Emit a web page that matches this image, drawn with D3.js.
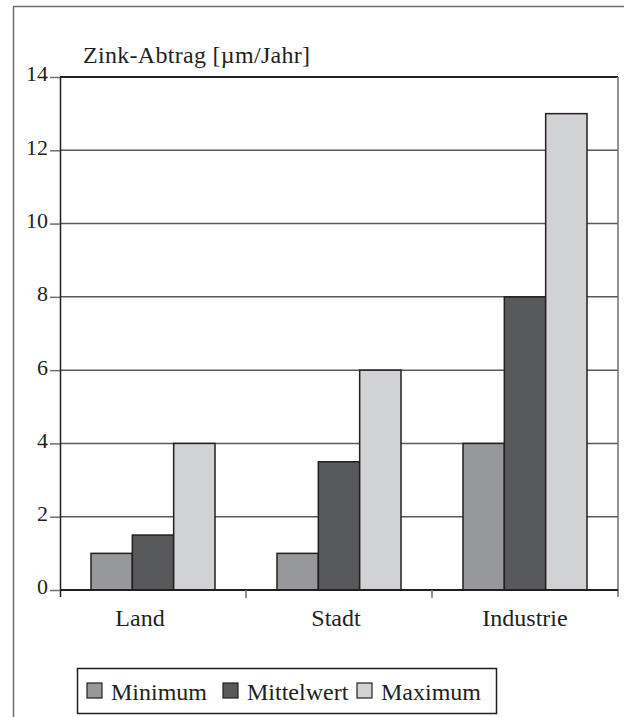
<!DOCTYPE html>
<html><head><meta charset="utf-8">
<script src="https://cdn.jsdelivr.net/npm/d3@7"></script>
<style>
html,body{margin:0;padding:0;background:#fff;}
svg{display:block;}
</style></head>
<body>
<svg id="chart" width="624" height="717"></svg>
<script>
const categories = ["Land", "Stadt", "Industrie"];
const seriesNames = ["Minimum", "Mittelwert", "Maximum"];
const minimum = [1, 1, 4];
const mittelwert = [1.5, 3.5, 8];
const maximum = [4, 6, 13];
const yTicks = [0, 2, 4, 6, 8, 10, 12, 14];
const yTitle = "Zink-Abtrag [µm/Jahr]";
const colors = ["#97989b", "#58595b", "#d1d2d4"];

(function () {
const FONT = "'Liberation Serif', 'Times New Roman', serif";
const seriesValues = [minimum, mittelwert, maximum];
const svg = d3.select("#chart");

// outer frame
svg.append("path").attr("d", "M13.5,717 L13.5,6.5 L624,6.5")
  .attr("fill", "none").attr("stroke", "#6d6e70").attr("stroke-width", 1.5);

const pL = 60, pR = 618, pT = 77, pB = 590;
const x = d3.scaleBand().domain(categories).range([pL, pR]).padding(0);
const xInner = d3.scaleBand().domain(seriesNames).range([31, x.bandwidth() - 31]).padding(0);
const y = d3.scaleLinear().domain([0, 14]).range([pB, pT]);

// gridlines
svg.append("g").selectAll("line").data(yTicks.filter(t => t > 0 && t < 14)).join("line")
  .attr("x1", pL).attr("x2", pR)
  .attr("y1", d => y(d)).attr("y2", d => y(d))
  .attr("stroke", "#58595b").attr("stroke-width", 1.5);

// top line
svg.append("line").attr("x1", pL).attr("x2", pR).attr("y1", y(14)).attr("y2", y(14))
  .attr("stroke", "#231f20").attr("stroke-width", 2);
// right border
svg.append("line").attr("x1", pR).attr("x2", pR).attr("y1", y(14)).attr("y2", pB + 7)
  .attr("stroke", "#6d6e70").attr("stroke-width", 1.5);

// bars
const groups = svg.append("g").selectAll("g").data(categories).join("g")
  .attr("transform", d => `translate(${x(d)},0)`);
groups.selectAll("rect").data((c, i) => seriesNames.map((s, j) => ({s, j, v: seriesValues[j][i]})))
  .join("rect")
  .attr("x", d => xInner(d.s)).attr("width", xInner.bandwidth())
  .attr("y", d => y(d.v)).attr("height", d => pB - y(d.v))
  .attr("fill", d => colors[d.j]).attr("stroke", "#231f20").attr("stroke-width", 1.5);

// y axis
const yAxis = svg.append("g").attr("transform", `translate(${pL},0)`)
  .call(d3.axisLeft(y).tickValues(yTicks).tickSize(10).tickPadding(2).tickFormat(d3.format("d")));
yAxis.attr("font-family", null).attr("font-size", null);
yAxis.select(".domain").attr("stroke", "#231f20").attr("stroke-width", 1.5).attr("d", `M0.5,${pT}V${pB + 7}`);
yAxis.selectAll(".tick line").attr("stroke", "#6d6e70").attr("stroke-width", 1.5);
yAxis.selectAll(".tick text").style("font-family", FONT).style("font-size", "22px")
  .attr("dy", "0.18em").attr("fill", "#231f20");

// x axis
svg.append("line").attr("x1", pL).attr("x2", pR).attr("y1", pB).attr("y2", pB)
  .attr("stroke", "#231f20").attr("stroke-width", 2);
const xTickPos = categories.map(c => x(c)).concat([pR]);
svg.append("g").selectAll("line").data(xTickPos.slice(1, 3)).join("line")
  .attr("x1", d => d).attr("x2", d => d).attr("y1", pB).attr("y2", pB + 8)
  .attr("stroke", "#6d6e70").attr("stroke-width", 1.5);
const labelDx = [-13, -3, 0];
svg.append("g").selectAll("text").data(categories).join("text")
  .attr("x", (d, i) => x(d) + x.bandwidth() / 2 + labelDx[i]).attr("y", 626)
  .attr("text-anchor", "middle").attr("fill", "#231f20")
  .style("font-family", FONT).style("font-size", "24px")
  .text(d => d);

// y title
svg.append("text").attr("x", 83).attr("y", 63).attr("fill", "#231f20")
  .style("font-family", FONT).style("font-size", "24px").style("letter-spacing", "0.3px")
  .text(yTitle);

// legend
const lg = svg.append("g");
lg.append("rect").attr("x", 77.5).attr("y", 668.5).attr("width", 419).attr("height", 45)
  .attr("fill", "#fff").attr("stroke", "#231f20").attr("stroke-width", 1.5);
const legendX = [87, 223, 357];
const items = lg.selectAll("g.item").data(seriesNames).join("g").attr("class", "item")
  .attr("transform", (d, i) => `translate(${legendX[i]},683)`);
items.append("rect").attr("width", 15).attr("height", 15)
  .attr("fill", (d, i) => colors[i]).attr("stroke", "#231f20").attr("stroke-width", 1.2);
items.append("text").attr("x", 24).attr("y", 17).attr("fill", "#231f20")
  .style("font-family", FONT).style("font-size", "24px")
  .text(d => d);
})();
</script>
</body></html>
